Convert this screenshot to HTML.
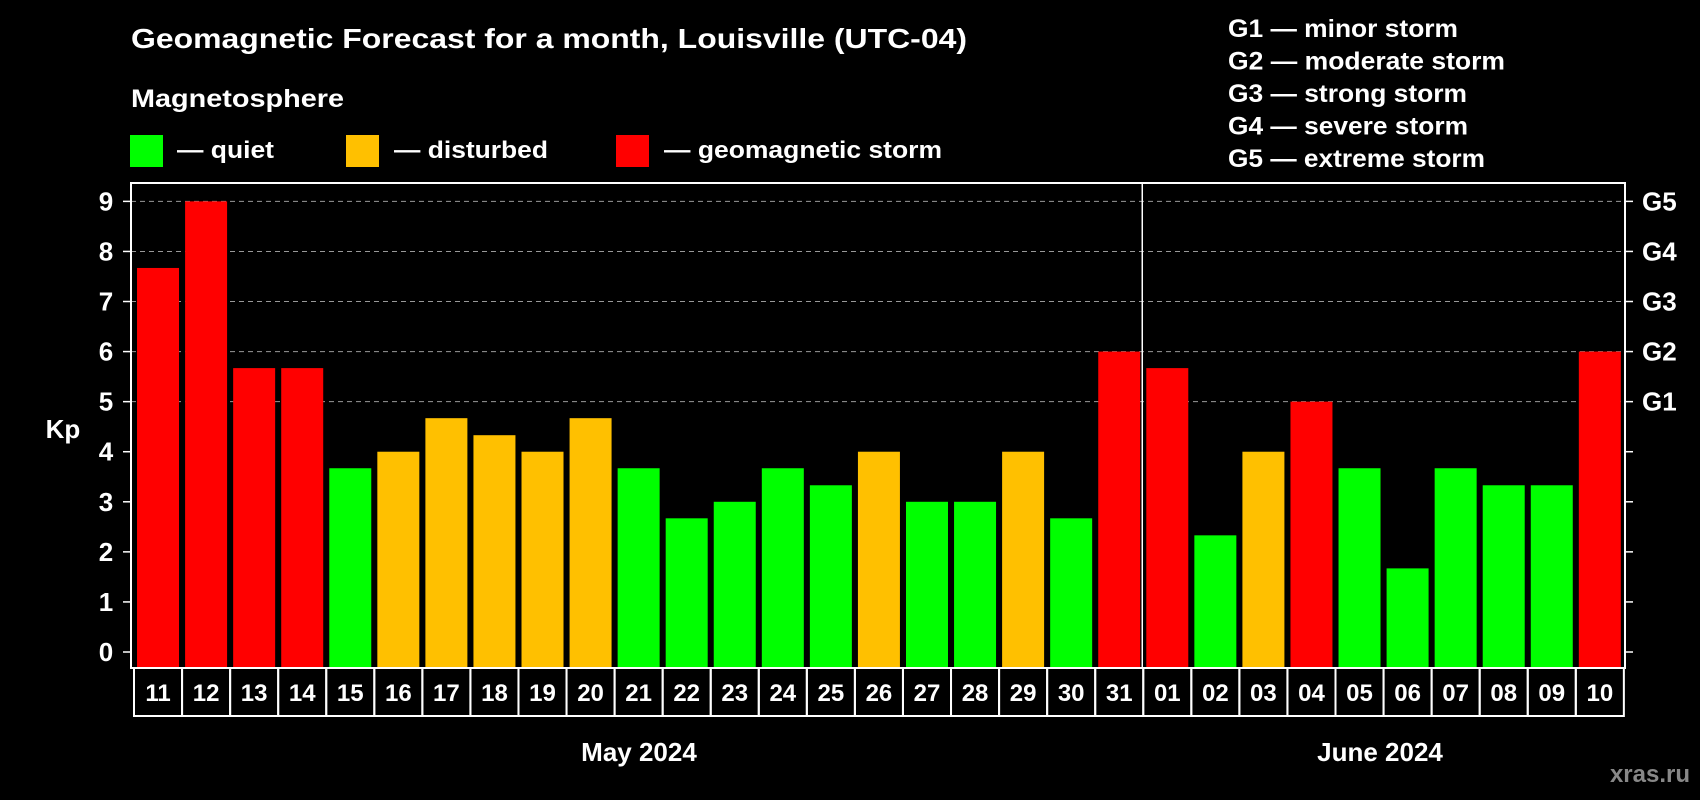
<!DOCTYPE html>
<html><head><meta charset="utf-8"><style>
html,body{margin:0;padding:0;background:#000;}
svg{display:block;font-family:"Liberation Sans",Arial,sans-serif;font-weight:bold;}
</style></head><body>
<svg id="chart" width="1700" height="800" viewBox="0 0 1700 800" xmlns="http://www.w3.org/2000/svg">
<rect width="1700" height="800" fill="#000"/>
<text x="131" y="48" fill="#fff" font-size="28" textLength="836" lengthAdjust="spacingAndGlyphs">Geomagnetic Forecast for a month, Louisville (UTC-04)</text>
<text x="131" y="107" fill="#fff" font-size="25" textLength="213" lengthAdjust="spacingAndGlyphs">Magnetosphere</text>
<g>
<rect x="130" y="135" width="33" height="32" fill="#00ff00"/>
<text x="177" y="158" fill="#fff" font-size="24" textLength="97" lengthAdjust="spacingAndGlyphs">— quiet</text></g>
<g>
<rect x="346" y="135" width="33" height="32" fill="#ffc000"/>
<text x="394" y="158" fill="#fff" font-size="24" textLength="154" lengthAdjust="spacingAndGlyphs">— disturbed</text></g>
<g>
<rect x="616" y="135" width="33" height="32" fill="#ff0000"/>
<text x="664" y="158" fill="#fff" font-size="24" textLength="278" lengthAdjust="spacingAndGlyphs">— geomagnetic storm</text></g>
<g fill="#fff" font-size="25">
<text x="1228" y="37" textLength="230" lengthAdjust="spacingAndGlyphs">G1 — minor storm</text>
<text x="1228" y="69.5" textLength="277" lengthAdjust="spacingAndGlyphs">G2 — moderate storm</text>
<text x="1228" y="102" textLength="239" lengthAdjust="spacingAndGlyphs">G3 — strong storm</text>
<text x="1228" y="134.5" textLength="240" lengthAdjust="spacingAndGlyphs">G4 — severe storm</text>
<text x="1228" y="167" textLength="257" lengthAdjust="spacingAndGlyphs">G5 — extreme storm</text>
</g>
<g id="plot"></g>
<text x="63" y="438" fill="#fff" font-size="26" text-anchor="middle">Kp</text>
<text x="639" y="761" fill="#fff" font-size="26" text-anchor="middle">May 2024</text>
<text x="1380" y="761" fill="#fff" font-size="26" text-anchor="middle">June 2024</text>
<text x="1690" y="782" fill="#888" font-size="24" text-anchor="end">xras.ru</text>
</svg>
<script>
const days = ["11","12","13","14","15","16","17","18","19","20","21","22","23","24","25","26","27","28","29","30","31","01","02","03","04","05","06","07","08","09","10"];
const kpValues = [7.67,9,5.67,5.67,3.67,4,4.67,4.33,4,4.67,3.67,2.67,3,3.67,3.33,4,3,3,4,2.67,6,5.67,2.33,4,5,3.67,1.67,3.67,3.33,3.33,6];
const yTicks = [0,1,2,3,4,5,6,7,8,9];
const gLabels = ["G1","G2","G3","G4","G5"];
const gLevels = [5,6,7,8,9];

const NS="http://www.w3.org/2000/svg";
const g=document.getElementById('plot');
const L=131,R=1625,T=183,B=668,y0=652,unit=50.07,pitch=48.06,bx0=134;
const y=v=>y0-v*unit;
const xc=i=>bx0+pitch*(i+0.5);
function mk(t,a,p){const e=document.createElementNS(NS,t);for(const k in a)e.setAttribute(k,a[k]);(p||g).appendChild(e);return e;}
function col(v){return v<4?"#00ff00":(v<5?"#ffc000":"#ff0000");}
gLevels.forEach(v=>{
 const l=mk('line',{x1:L,x2:R,y1:y(v),y2:y(v),stroke:'#999','stroke-dasharray':'5,4','stroke-width':1});
 
 
});
kpValues.forEach((v,i)=>{
 const r=mk('rect',{x:xc(i)-21,y:y(v),width:42,height:B-y(v),fill:col(v)});
 
 
});
const dv=mk('line',{x1:bx0+pitch*21-1,x2:bx0+pitch*21-1,y1:T,y2:B,stroke:'#fff','stroke-width':1.5});


const fr=mk('rect',{x:L,y:T,width:R-L,height:B-T,fill:'none',stroke:'#fff','stroke-width':2});


yTicks.forEach(v=>{
 mk('line',{x1:L-8,x2:L,y1:y(v),y2:y(v),stroke:'#fff','stroke-width':1.5});
 mk('line',{x1:R,x2:R+8,y1:y(v),y2:y(v),stroke:'#fff','stroke-width':1.5});
 const t=mk('text',{x:106,y:y(v)+9,fill:'#fff','font-size':26,'text-anchor':'middle'});
 t.textContent=v;
 
 
});
gLabels.forEach((s,i)=>{
 const t=mk('text',{x:1642,y:y(gLevels[i])+9,fill:'#fff','font-size':26});
 t.textContent=s;
 
 
});
days.forEach((d,i)=>{
 const r=mk('rect',{x:bx0+pitch*i,y:B,width:pitch,height:716-B,fill:'none',stroke:'#fff','stroke-width':2});
 
 
 const t=mk('text',{x:xc(i),y:701,fill:'#fff','font-size':24,'text-anchor':'middle'});
 t.textContent=d;
 
 
});
</script>
</body></html>
